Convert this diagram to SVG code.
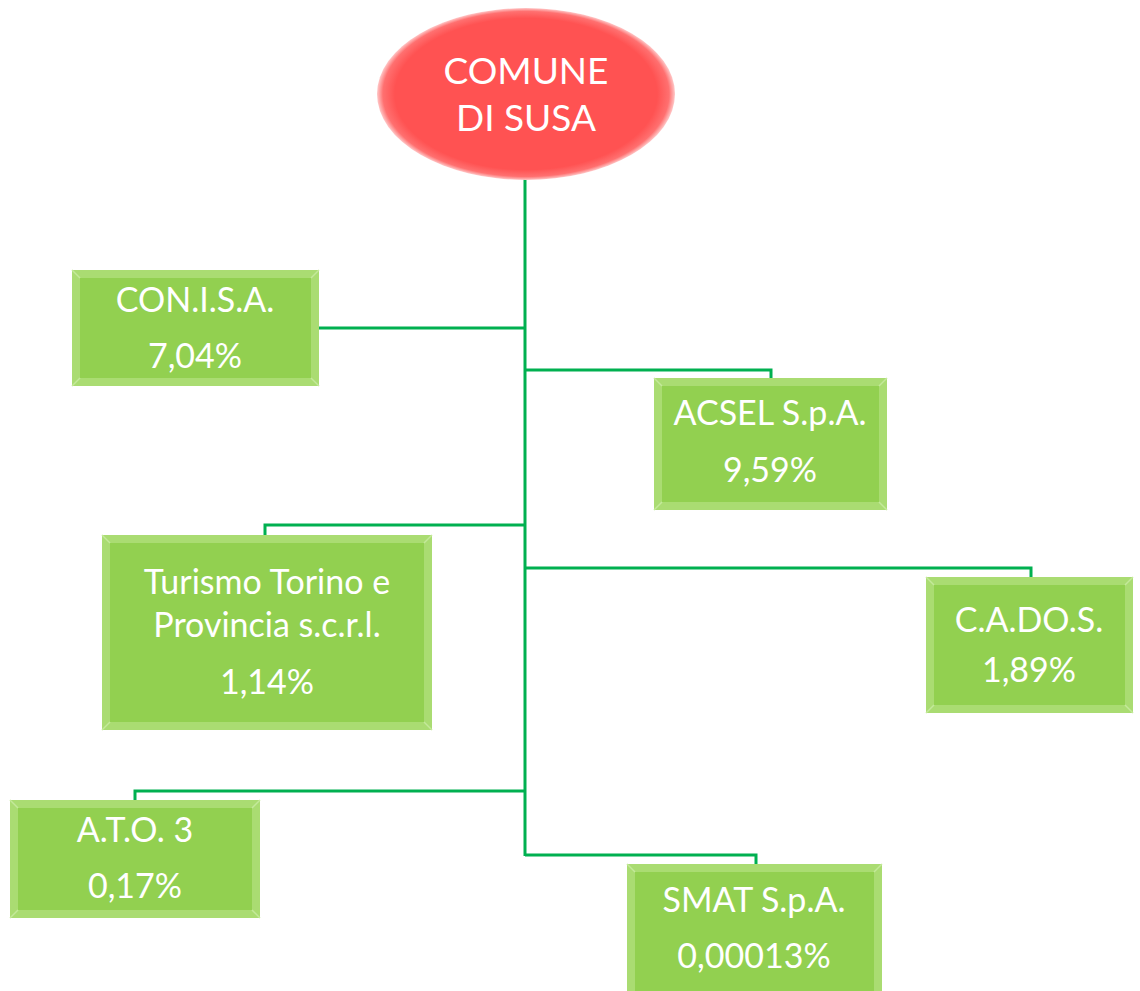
<svg xmlns="http://www.w3.org/2000/svg" width="1140" height="991" viewBox="0 0 1140 991">
<style>
.conn{fill:none;stroke:#00B050;stroke-width:3}
.box-out{fill:#aadc72}
.box-in{fill:#92D050}
.bev{stroke:#c3e99a;stroke-width:1.5}
.t{font-family:Lato,"Liberation Sans",sans-serif;font-size:34px;fill:#ffffff;text-anchor:middle}
.th{font-family:Lato,"Liberation Sans",sans-serif;font-size:37px;fill:#ffffff;text-anchor:middle}
</style>
<defs>
<radialGradient id="red" cx="0.5" cy="0.5" r="0.5">
<stop offset="0.88" stop-color="#FF5252"/>
<stop offset="0.96" stop-color="#ff7070"/>
<stop offset="1" stop-color="#ffc8c8"/>
</radialGradient>
</defs>
<g id="connectors">
<line class="conn" x1="525" y1="178" x2="525" y2="856"/>
<polyline class="conn" points="525,328 319,328"/>
<polyline class="conn" points="525,370 771,370 771,379"/>
<polyline class="conn" points="525,525 265,525 265,536"/>
<polyline class="conn" points="525,568 1031,568 1031,578"/>
<polyline class="conn" points="525,791 135,791 135,801"/>
<polyline class="conn" points="525,855 756,855 756,865"/>
</g>
<g id="comune">
<ellipse cx="526" cy="94" rx="149" ry="86" fill="url(#red)"/>
<text class="th" x="526" y="84">COMUNE</text>
<text class="th" x="526" y="131">DI SUSA</text>
</g>
<g id="conisa">
<rect class="box-out" x="72" y="270" width="247" height="116"/>
<rect class="box-in" x="80" y="278" width="231" height="100"/>
<path class="bev" d="M72,270L80,278M319,270L311,278M72,386L80,378M319,386L311,378"/>
<text class="t" x="195" y="312">CON.I.S.A.</text>
<text class="t" x="195" y="368">7,04%</text>
</g>
<g id="acsel">
<rect class="box-out" x="654" y="378" width="233" height="132"/>
<rect class="box-in" x="662" y="386" width="217" height="116"/>
<path class="bev" d="M654,378L662,386M887,378L879,386M654,510L662,502M887,510L879,502"/>
<text class="t" x="770" y="425">ACSEL S.p.A.</text>
<text class="t" x="770" y="482">9,59%</text>
</g>
<g id="turismo">
<rect class="box-out" x="102" y="535" width="330" height="195"/>
<rect class="box-in" x="110" y="543" width="314" height="179"/>
<path class="bev" d="M102,535L110,543M432,535L424,543M102,730L110,722M432,730L424,722"/>
<text class="t" x="267" y="594">Turismo Torino e</text>
<text class="t" x="267" y="637">Provincia s.c.r.l.</text>
<text class="t" x="267" y="694">1,14%</text>
</g>
<g id="cados">
<rect class="box-out" x="926" y="577" width="207" height="136"/>
<rect class="box-in" x="934" y="585" width="191" height="120"/>
<path class="bev" d="M926,577L934,585M1133,577L1125,585M926,713L934,705M1133,713L1125,705"/>
<text class="t" x="1029" y="632">C.A.DO.S.</text>
<text class="t" x="1029" y="682">1,89%</text>
</g>
<g id="ato3">
<rect class="box-out" x="10" y="800" width="250" height="118"/>
<rect class="box-in" x="18" y="808" width="234" height="102"/>
<path class="bev" d="M10,800L18,808M260,800L252,808M10,918L18,910M260,918L252,910"/>
<text class="t" x="135" y="842">A.T.O. 3</text>
<text class="t" x="135" y="898">0,17%</text>
</g>
<g id="smat">
<rect class="box-out" x="627" y="864" width="255" height="140"/>
<rect class="box-in" x="635" y="872" width="239" height="124"/>
<path class="bev" d="M627,864L635,872M882,864L874,872"/>
<text class="t" x="754" y="912">SMAT S.p.A.</text>
<text class="t" x="754" y="968">0,00013%</text>
</g>
</svg>
